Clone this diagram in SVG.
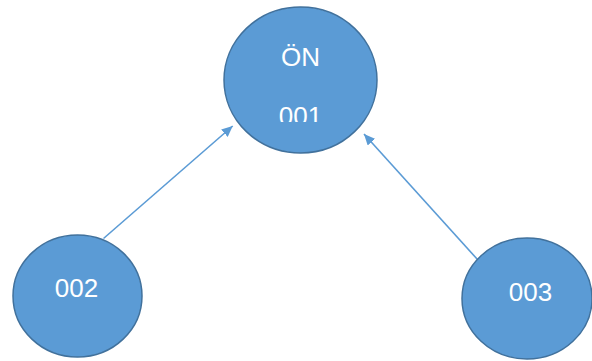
<svg xmlns="http://www.w3.org/2000/svg" width="592" height="361" viewBox="0 0 592 361">
<style>
.node{fill:#5B9BD5;stroke:#41719C;stroke-width:1.5}
.lbl{font-family:"Liberation Sans",Arial,sans-serif;font-size:26px;fill:#FFFFFF;text-anchor:middle}
.edge{stroke:#5B9BD5;stroke-width:1.6;fill:none}
</style>
<defs>
<marker id="arr" markerUnits="userSpaceOnUse" markerWidth="11" markerHeight="10" refX="11" refY="5" orient="auto">
<path d="M0,0 L11,5 L0,10 z" fill="#5B9BD5"/>
</marker>
<clipPath id="clip001"><rect x="224" y="90" width="154" height="32"/></clipPath>
</defs>
<rect width="592" height="361" fill="#FFFFFF"/>
<g id="connectors">
<line class="edge" x1="103.5" y1="238.5" x2="232.7" y2="126" marker-end="url(#arr)"/>
<line class="edge" x1="477.3" y1="259.3" x2="364" y2="134" marker-end="url(#arr)"/>
</g>
<g id="node-001">
<ellipse class="node" cx="300.5" cy="80" rx="76.5" ry="73"/>
<text class="lbl" x="300.5" y="66">ÖN</text>
<text class="lbl" x="300.5" y="125" clip-path="url(#clip001)">001</text>
</g>
<g id="node-002">
<ellipse class="node" cx="77.5" cy="296" rx="64.5" ry="61"/>
<text class="lbl" x="76.5" y="297">002</text>
</g>
<g id="node-003">
<ellipse class="node" cx="527" cy="298.5" rx="65" ry="60.5"/>
<text class="lbl" x="530.5" y="301">003</text>
</g>
</svg>
